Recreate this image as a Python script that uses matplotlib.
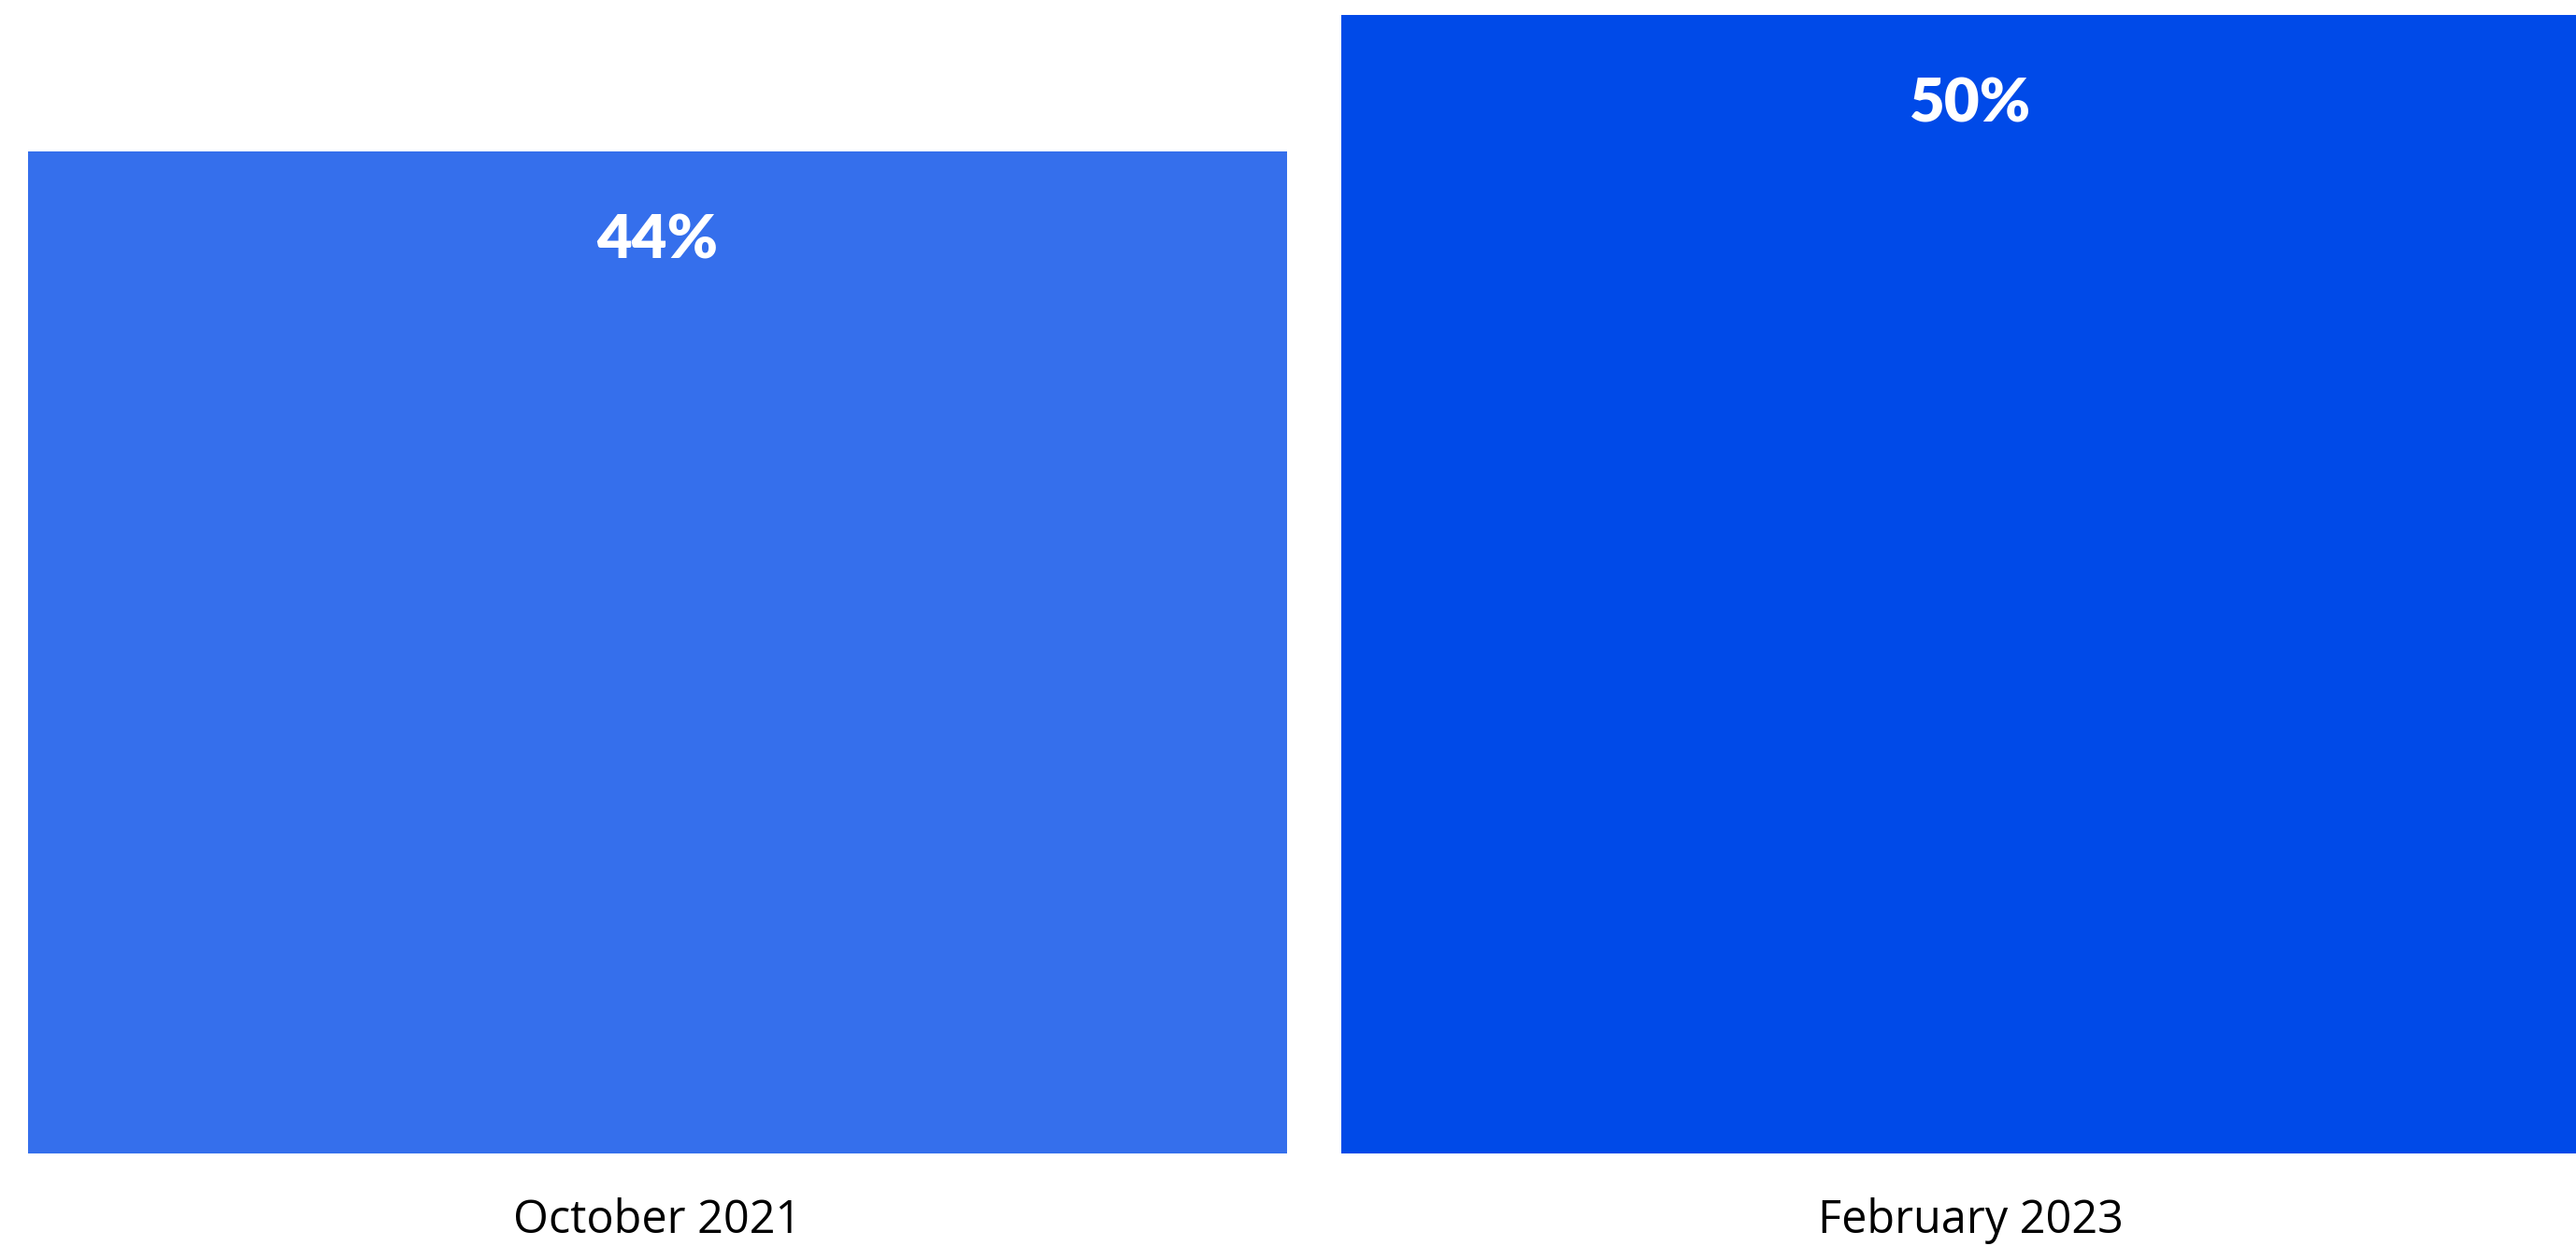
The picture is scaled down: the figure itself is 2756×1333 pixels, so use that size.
import matplotlib
matplotlib.use("Agg")
import matplotlib.pyplot as plt

categories = ["October 2021", "February 2023"]
values = [44, 50]
value_labels = ["44%", "50%"]
colors = ["#356FEC", "#004AE8"]

fig = plt.figure(figsize=(27.56, 13.33), dpi=100)
ax = fig.add_axes([0, 0, 1, 1])

x = list(range(len(categories)))
ax.bar(x, values, width=0.9587, color=colors)

# axis limits chosen so that the bars land where they sit in the original
ax.set_xlim(-0.5007, 1.4609)
ax.set_ylim(-4.064, 50.66)
ax.axis("off")

for xi, v, lab in zip(x, values, value_labels):
    ax.text(xi, v - 3.95, lab, ha="center", va="center", color="white",
            fontsize=47, fontweight="heavy", family=["Lato", "DejaVu Sans"])

for xi, cat in zip(x, categories):
    ax.text(xi, -2.95, cat, ha="center", va="center", color="black",
            fontsize=35, family=["Open Sans", "DejaVu Sans"])

fig.savefig("out.png", dpi=100)
